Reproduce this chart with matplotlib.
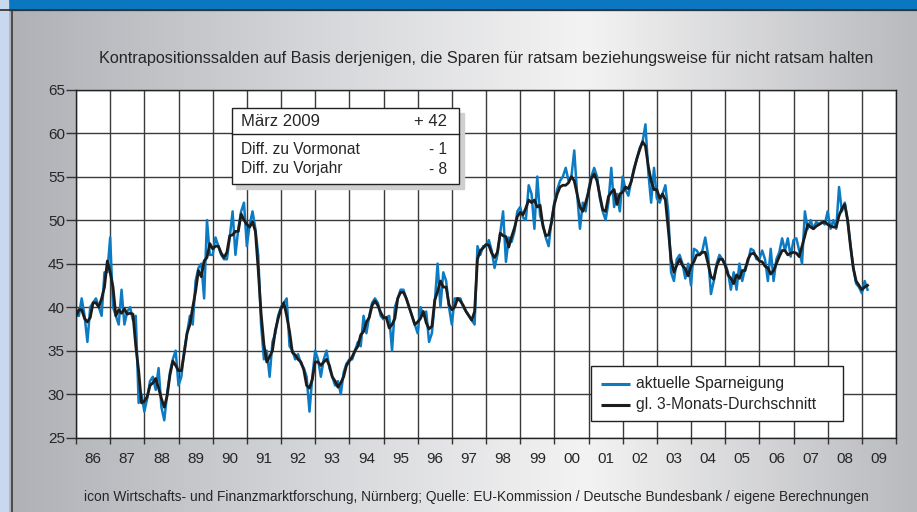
import numpy as np
import matplotlib
matplotlib.use("Agg")
import matplotlib.pyplot as plt
from matplotlib.colors import LinearSegmentedColormap
from matplotlib.patches import Rectangle

plt.rcParams['font.family'] = ['Liberation Sans', 'DejaVu Sans']

# monthly values, Jan 1986 .. Mar 2009
sparneigung = [
    39, 39, 41, 39, 36, 40, 40.5, 41, 40, 39, 44, 44,                  # 1986
    48, 40, 39, 38, 42, 38, 39.5, 40, 38.5, 39, 29, 30,                # 1987
    28, 29.5, 31.5, 32, 30.5, 33, 28.5, 27, 30, 32.5, 34, 35,          # 1988
    31, 32, 35, 37, 39, 38, 43, 44.5, 45, 41, 50, 46,                  # 1989
    46, 48, 47, 46, 45.5, 45.5, 48, 51, 46, 49, 51, 52,                # 1990
    47, 49.5, 51, 49, 46, 38, 34, 35, 32, 36, 37, 39,                  # 1991
    40, 40.5, 41, 35.5, 35, 34, 34.6, 33.5, 33, 32, 28, 32,            # 1992
    35, 34, 32, 34, 35, 33, 32, 31, 31.5, 30, 32.5, 33.5,              # 1993
    34, 34, 35, 36, 35.5, 39, 37, 39, 40.5, 41, 40.5, 39,              # 1994
    38.6, 38.8, 39, 35, 40, 41, 42, 42, 41, 40, 39, 38,                # 1995
    37, 40, 39, 39.5, 36, 37, 40.5, 45, 40, 44, 43, 40,                # 1996
    38, 41, 41, 41, 40, 39.5, 39, 38.5, 38, 47, 46, 47,                # 1997
    47, 47.7, 46.5, 44.5, 46, 48.5, 51, 45.2, 48, 47.5, 48.7, 51,      # 1998
    51.5, 50.3, 50, 54, 53, 49, 55, 50.5, 49.5, 48, 47, 50,            # 1999
    52, 53.5, 54.5, 55, 56, 54.5, 55, 58, 53, 49, 52, 51,              # 2000
    53.5, 55, 56, 55, 52.5, 51, 50, 52, 56, 51.5, 53, 51,              # 2001
    55, 53.5, 52.8, 54.5, 56, 57, 58.3, 59, 61, 55.5, 52, 56,          # 2002
    52.5, 52, 53, 54, 51, 44, 43, 45.5, 46, 45, 43.3, 45,              # 2003
    42.5, 46.7, 46.5, 46, 46.5, 48, 46, 41.5, 43, 45, 46, 45.5,        # 2004
    45, 44, 42, 44, 42, 45, 43, 44.5, 45.2, 46.7, 46.5, 45.5,          # 2005
    45.5, 46.5, 45.5, 43, 46.7, 43, 45.5, 46.3, 47.9, 46.5, 47.9, 45.8,  # 2006
    47.7, 47.9, 46.5, 45, 51, 49, 50, 49, 49.8, 49.5, 49.8, 49.5,      # 2007
    51, 49, 50, 49, 53.8, 51, 52, 50, 47.3, 44.5, 42.7, 42.3,          # 2008
    41.6, 43, 42,                                                      # 2009
]

durchschnitt = [
    39.0, 39.7, 39.7, 38.7, 38.3, 38.8, 40.5, 40.5, 40.0, 41.0, 42.3, 45.3,   # 1986
    44.0, 42.3, 39.0, 39.7, 39.3, 39.8, 39.2, 39.3, 39.2, 35.5, 32.7, 29.0,   # 1987
    29.2, 29.7, 31.0, 31.3, 31.8, 30.7, 29.5, 28.5, 29.8, 32.2, 33.8, 33.3,   # 1988
    32.7, 32.7, 34.7, 37.0, 38.0, 40.0, 41.8, 44.2, 43.5, 45.3, 45.7, 47.3,   # 1989
    46.7, 47.0, 47.0, 46.2, 45.7, 46.3, 48.2, 48.3, 48.7, 48.7, 50.7, 50.0,   # 1990
    49.5, 49.2, 49.8, 48.7, 44.3, 39.3, 35.7, 33.7, 34.3, 35.0, 37.3, 38.7,   # 1991
    39.8, 40.5, 39.0, 37.2, 34.8, 34.5, 34.0, 33.7, 32.8, 31.0, 30.7, 31.7,   # 1992
    33.7, 33.7, 33.3, 33.7, 34.0, 33.3, 32.0, 31.5, 30.8, 31.3, 32.0, 33.3,   # 1993
    33.8, 34.3, 35.0, 35.5, 36.8, 37.2, 38.3, 38.8, 40.2, 40.7, 40.2, 39.4,   # 1994
    38.8, 38.8, 37.6, 38.0, 38.7, 41.0, 41.7, 41.7, 41.0, 40.0, 39.0, 38.0,   # 1995
    38.3, 38.7, 39.5, 38.2, 37.5, 37.8, 40.8, 41.8, 43.0, 42.3, 42.3, 40.3,   # 1996
    39.7, 40.0, 41.0, 40.7, 40.2, 39.5, 39.0, 38.5, 39.5, 45.5, 46.5, 46.8,   # 1997
    47.2, 47.1, 46.2, 45.7, 46.3, 48.5, 48.2, 48.1, 46.9, 48.1, 49.1, 50.4,   # 1998
    50.9, 50.6, 51.4, 52.3, 52.0, 52.3, 51.5, 51.7, 49.3, 48.2, 48.3, 49.7,   # 1999
    51.8, 53.0, 53.8, 54.0, 54.0, 54.3, 55.0, 54.5, 53.0, 51.5, 51.0, 52.0,   # 2000
    53.2, 54.8, 55.3, 54.5, 52.8, 51.2, 51.0, 52.7, 53.2, 53.5, 51.8, 53.0,   # 2001
    53.2, 53.8, 53.6, 54.4, 55.8, 57.1, 58.1, 59.0, 58.5, 56.2, 54.5, 53.5,   # 2002
    53.5, 52.5, 53.0, 52.3, 49.0, 45.5, 44.0, 44.8, 45.5, 44.8, 44.4, 43.6,   # 2003
    44.7, 45.2, 46.0, 46.0, 46.3, 46.3, 45.0, 43.5, 43.2, 44.7, 45.5, 45.5,   # 2004
    44.8, 43.7, 43.3, 42.7, 43.7, 43.3, 44.2, 44.2, 45.5, 46.1, 46.2, 45.8,   # 2005
    45.3, 45.2, 44.7, 44.5, 43.8, 44.2, 45.0, 45.8, 46.5, 46.5, 46.0, 46.2,   # 2006
    46.3, 46.2, 45.8, 47.0, 48.2, 49.5, 49.2, 49.0, 49.3, 49.5, 49.7, 49.8,   # 2007
    49.5, 49.3, 49.2, 49.2, 50.5, 51.3, 51.8, 50.0, 47.0, 44.5, 43.0, 42.5,   # 2008
    42.0, 42.3, 42.5,                                                         # 2009
]

year_labels = ["86", "87", "88", "89", "90", "91", "92", "93", "94", "95", "96", "97",
               "98", "99", "00", "01", "02", "03", "04", "05", "06", "07", "08", "09"]
series_names = ["aktuelle Sparneigung", "gl. 3-Monats-Durchschnitt"]
info_rows = [("März 2009", "+ 42"), ("Diff. zu Vormonat", "- 1"), ("Diff. zu Vorjahr", "- 8")]

subtitle = "Kontrapositionssalden auf Basis derjenigen, die Sparen für ratsam beziehungsweise für nicht ratsam halten"
source = ("icon Wirtschafts- und Finanzmarktforschung, Nürnberg; Quelle: EU-Kommission / "
          "Deutsche Bundesbank / eigene Berechnungen")

BLUE = "#0c7bc4"
DARK = "#1c1c1c"
TXT = "#262626"
W, H = 917, 512

fig = plt.figure(figsize=(9.17, 5.12), dpi=100)

# background with grey gradient, blue banner on top
bg = fig.add_axes([0, 0, 1, 1], zorder=-10)
bg_cmap = LinearSegmentedColormap.from_list(
    "bg", [(0, "#aeb0b5"), (0.35, "#d6d7da"), (0.64, "#f3f3f3"), (1, "#b9babe")])
bg.imshow(np.linspace(0, 1, 500).reshape(1, -1), aspect="auto", cmap=bg_cmap,
          extent=[0, W, H, 0])
bg.add_patch(Rectangle((0, 0), W, 9.5, color="#0a77c0"))
bg.plot([0, W], [10, 10], color="#2c2c2c", lw=1.2)
bg.add_patch(Rectangle((0, 0), 8, H, color="#c8d8ee"))
bg.plot([11.5, 11.5], [10, H], color="#3a3a3a", lw=1.2)
bg.set_xlim(0, W)
bg.set_ylim(H, 0)
bg.axis("off")

# main chart
ax = fig.add_axes([76 / W, 1 - 437.7 / H, (896 - 76) / W, (437.7 - 89.5) / H])
t = 1986 + np.arange(len(sparneigung)) / 12
ax.plot(t, sparneigung, color=BLUE, lw=1.8, zorder=3)
ax.plot(t, durchschnitt, color=DARK, lw=2.0, zorder=4)

ax.set_xlim(1986, 2010)
ax.set_ylim(25, 65)
ax.set_xticks(np.arange(1986, 2011))
ax.set_xticklabels([])
ax.set_xticks(np.arange(1986, 2010) + 0.5, minor=True)
ax.set_xticklabels(year_labels, minor=True)
ax.set_yticks(np.arange(25, 66, 5))
ax.tick_params(axis="x", which="major", length=4, width=1, color="#333333")
ax.tick_params(axis="x", which="minor", length=0, pad=10, labelsize=11, labelcolor=TXT)
ax.tick_params(axis="y", length=7, width=1, color="#333333", labelsize=11,
               labelcolor=TXT, pad=1)
ax.grid(True, which="major", color="#3a3a3a", lw=1.0)
ax.set_axisbelow(True)
for s in ax.spines.values():
    s.set_color("#222222")
    s.set_linewidth(1)

# overlay: legend, info box and texts (pixel coordinates, y downwards)
ov = fig.add_axes([0, 0, 1, 1], zorder=10)
ov.patch.set_alpha(0)
ov.set_xlim(0, W)
ov.set_ylim(H, 0)
ov.axis("off")

ov.add_patch(Rectangle((591, 366), 252, 55, facecolor="white", edgecolor="#222222", lw=1))
for name, col, y in zip(series_names, [BLUE, DARK], [383.5, 405]):
    ov.plot([601, 630], [y, y], color=col, lw=2.2, solid_capstyle="butt")
    ov.text(636, y, name, fontsize=11.3, color=TXT, ha="left", va="center")

ov.add_patch(Rectangle((236, 113), 228, 76, color="#cfcfcf"))
ov.add_patch(Rectangle((231.7, 108.3), 227.6, 75.7, facecolor="white", edgecolor="#222222", lw=1))
ov.plot([231.7, 459.3], [134, 134], color="#222222", lw=1)
for (lab, val), y, fs in zip(info_rows, [122, 150, 169], [12, 11.2, 11.2]):
    ov.text(241, y, lab, fontsize=fs, color=TXT, va="center", ha="left")
    ov.text(447, y, val, fontsize=fs, color=TXT, va="center", ha="right")

ov.text(486, 58, subtitle, fontsize=11.7, color=TXT, ha="center", va="center")
ov.text(476, 497, source, fontsize=9.9, color=TXT, ha="center", va="center")

fig.savefig("out.png", dpi=100)
